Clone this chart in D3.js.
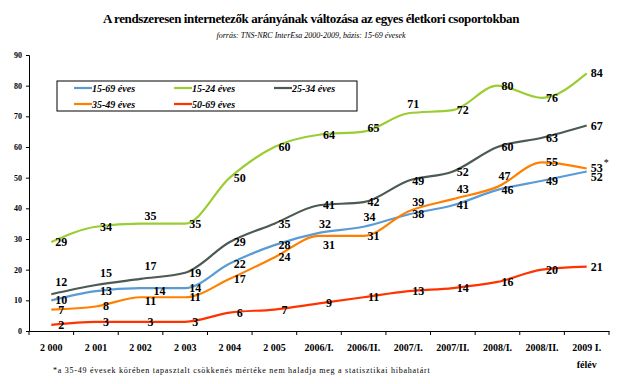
<!DOCTYPE html>
<meta charset="utf-8">
<html>
<head>
  <script src="https://d3js.org/d3.v7.min.js" charset="utf-8"></script>
</head>
<style>
* { margin: 0; padding: 0; }
body { background-color: white; }
svg text { font-family: "Liberation Serif", "Times New Roman", serif; }
.title { font-size: 13px; font-weight: bold; text-anchor: middle; letter-spacing: -0.4px; }
.subtitle { font-size: 8px; font-style: italic; text-anchor: middle; }
.lbl { font-size: 12px; font-weight: bold; text-anchor: middle; }
.axis text { font-size: 8px; font-weight: bold; }
.xlab { font-size: 10px; font-weight: bold; text-anchor: middle; }
.leg { font-size: 10px; font-weight: bold; font-style: italic; }
.note { font-size: 8px; letter-spacing: 0.75px; }
</style>
<body>
<div id="container"></div>
<script type="text/javascript">

var categories = ["2 000", "2 001", "2 002", "2 003", "2 004", "2 005", "2006/I.", "2006/II.",
                  "2007/I.", "2007/II.", "2008/I.", "2008/II.", "2009 I."]
var seriesNames = ["15-69 éves", "15-24 éves", "25-34 éves", "35-49 éves", "50-69 éves"]
var all1569 = [10, 13, 14, 14, 22, 28, 32, 34, 38, 41, 46, 49, 52]
var age1524 = [29, 34, 35, 35, 50, 60, 64, 65, 71, 72, 80, 76, 84]
var age2534 = [12, 15, 17, 19, 29, 35, 41, 42, 49, 52, 60, 63, 67]
var age3549 = [7, 8, 11, 11, 17, 24, 31, 31, 39, 43, 47, 55, 53]
var age5069 = [2, 3, 3, 3, 6, 7, 9, 11, 13, 14, 16, 20, 21]
var yTicks = [0, 10, 20, 30, 40, 50, 60, 70, 80, 90]

var width = 623
var height = 384
var margin = {left: 29, right: 14, top: 55, bottom: 53}

var colors = ["#5b9bd5", "#9acd32", "#4b5a52", "#ff8000", "#ff3300"]
var seriesData = [all1569, age1524, age2534, age3549, age5069]

// label nudges (dx, dy) for labels that were moved away from the default spot
var nudges = {
  "1-2": [0, -8], "1-7": [0, -4], "1-8": [-5, -9],
  "2-0": [0, -12], "2-1": [0, -12], "2-2": [0, -13],
  "0-2": [9, 3], "0-6": [-4, -9], "0-7": [-4, -10], "0-12": [0, 5],
  "3-2": [0, 4], "3-6": [0, 9], "3-8": [0, -9], "3-9": [0, -10], "3-10": [-3, -11]
}

var svg = d3.select("#container")
            .append("svg")
            .attr("width", width)
            .attr("height", height)

svg.append("text")
   .attr("class", "title")
   .attr("x", 311)
   .attr("y", 23)
   .text("A rendszeresen internetezők arányának változása az egyes életkori csoportokban")

svg.append("text")
   .attr("class", "subtitle")
   .attr("x", 311)
   .attr("y", 38)
   .text("forrás: TNS-NRC InterEsa 2000-2009, bázis: 15-69 évesek")

var x = d3.scaleBand()
          .domain(categories)
          .range([margin.left, width - margin.right])

var y = d3.scaleLinear()
          .domain([0, 90])
          .range([height - margin.bottom, margin.top])

var yAxis = d3.axisLeft(y).tickValues(yTicks).tickSize(3).tickPadding(4)
svg.append("g")
   .attr("class", "axis")
   .attr("transform", "translate(" + margin.left + ",0)")
   .call(yAxis)

var xAxis = d3.axisBottom(x).tickSize(0).tickFormat("")
var xg = svg.append("g")
   .attr("class", "axis")
   .attr("transform", "translate(0," + (height - margin.bottom) + ")")
   .call(xAxis)

// tick marks on the category borders
xg.selectAll(".border")
  .data(categories.concat(["end"]))
  .enter()
  .append("line")
  .attr("x1", (d, i) => margin.left + i * x.step())
  .attr("x2", (d, i) => margin.left + i * x.step())
  .attr("y1", 0)
  .attr("y2", 4)
  .attr("stroke", "black")

svg.selectAll(".axis path").attr("stroke", "black").attr("stroke-width", 1)
svg.selectAll(".axis line").attr("stroke", "black")

svg.selectAll(".xlab")
   .data(categories)
   .enter()
   .append("text")
   .attr("class", "xlab")
   .attr("x", (d) => x(d) + x.bandwidth() / 2)
   .attr("y", height - margin.bottom + 20)
   .text((d) => d)

svg.append("text")
   .attr("class", "xlab")
   .attr("x", x(categories[12]) + x.bandwidth() / 2)
   .attr("y", height - margin.bottom + 37)
   .text("félév")

var line = d3.line()
             .x((d, i) => x(categories[i]) + x.bandwidth() / 2)
             .y((d) => y(d))
             .curve(d3.curveMonotoneX)

// draw order: the total line sits beneath the others
var order = [2, 1, 0, 3, 4]
order.forEach(function(s) {
  svg.append("path")
     .datum(seriesData[s])
     .attr("d", line)
     .attr("fill", "none")
     .attr("stroke", colors[s])
     .attr("stroke-width", 2.2)
})

seriesData.forEach(function(vals, s) {
  svg.selectAll(".lbl-" + s)
     .data(vals)
     .enter()
     .append("text")
     .attr("class", "lbl")
     .attr("x", function(d, i) {
       var n = nudges[s + "-" + i] || [0, 0]
       return x(categories[i]) + x.bandwidth() / 2 + 10 + n[0]
     })
     .attr("y", function(d, i) {
       var n = nudges[s + "-" + i] || [0, 0]
       return y(d) + 4 + n[1]
     })
     .text((d) => d)
})

// asterisk beside the last 35-49 value
svg.append("text")
   .attr("x", x(categories[12]) + x.bandwidth() / 2 + 17)
   .attr("y", y(age3549[12]) - 2)
   .style("font-size", "10px")
   .text("*")

// legend
var legend = svg.append("g")
legend.append("rect")
      .attr("x", 57).attr("y", 81)
      .attr("width", 300).attr("height", 30)
      .attr("fill", "white").attr("stroke", "black").attr("stroke-width", 1)

var legendPos = [[74, 88], [174, 88], [274, 88], [74, 104], [174, 104]]
seriesNames.forEach(function(name, s) {
  var p = legendPos[s]
  legend.append("line")
        .attr("x1", p[0]).attr("x2", p[0] + 18)
        .attr("y1", p[1]).attr("y2", p[1])
        .attr("stroke", colors[s]).attr("stroke-width", 2.2)
  legend.append("text")
        .attr("class", "leg")
        .attr("x", p[0] + 18).attr("y", p[1] + 3.5)
        .text(name)
})

svg.append("text")
   .attr("class", "note")
   .attr("x", 53)
   .attr("y", 373)
   .text("*a 35-49 évesek körében tapasztalt csökkenés mértéke nem haladja meg a statisztikai hibahatárt")

</script>
</body>
</html>
